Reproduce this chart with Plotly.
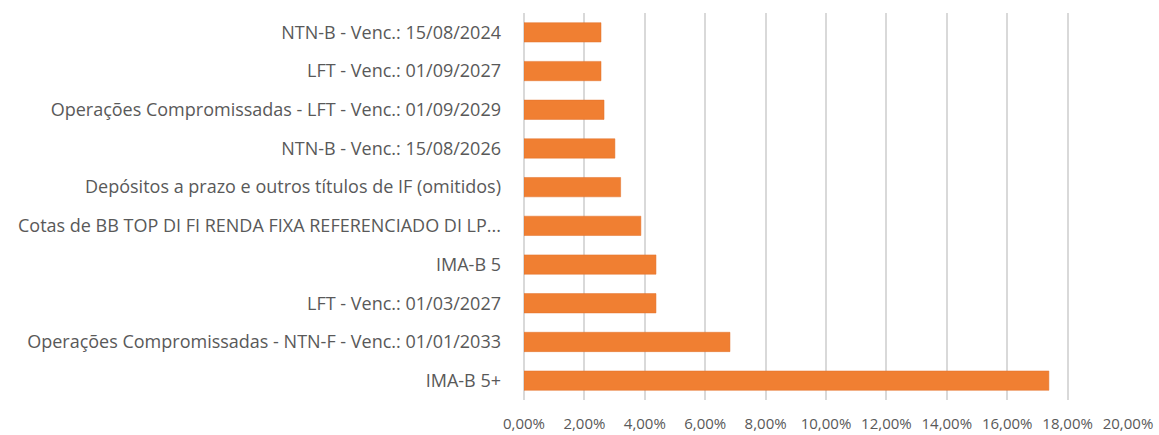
import plotly.graph_objects as go

categories = [
    "NTN-B - Venc.: 15/08/2024",
    "LFT - Venc.: 01/09/2027",
    "Operações Compromissadas - LFT - Venc.: 01/09/2029",
    "NTN-B - Venc.: 15/08/2026",
    "Depósitos a prazo e outros títulos de IF (omitidos)",
    "Cotas de BB TOP DI FI RENDA FIXA REFERENCIADO DI LP...",
    "IMA-B 5",
    "LFT - Venc.: 01/03/2027",
    "Operações Compromissadas - NTN-F - Venc.: 01/01/2033",
    "IMA-B 5+",
]
values = [2.55, 2.55, 2.65, 3.01, 3.20, 3.87, 4.37, 4.37, 6.82, 17.38]
tick_vals = [0, 2, 4, 6, 8, 10, 12, 14, 16, 18, 20]
tick_text = ["0,00%", "2,00%", "4,00%", "6,00%", "8,00%", "10,00%", "12,00%",
             "14,00%", "16,00%", "18,00%", "20,00%"]

fig = go.Figure()
fig.add_trace(go.Bar(
    x=values, y=categories, orientation="h",
    marker=dict(color="#F07F32", line=dict(color="#E2702A", width=0.5)),
    hoverinfo="x+y",
))
fig.update_layout(
    width=1159, height=435,
    margin=dict(l=524, r=31, t=13, b=35),
    paper_bgcolor="white", plot_bgcolor="white",
    bargap=0.5, showlegend=False,
    font=dict(family="'Open Sans', sans-serif", color="#595959"),
)
fig.update_xaxes(
    range=[0, 20], tickvals=tick_vals, ticktext=tick_text,
    showgrid=True, gridcolor="#D9D9D9", gridwidth=1.5,
    zeroline=True, zerolinecolor="#D9D9D9", zerolinewidth=1.5,
    tickfont=dict(size=15, color="#595959"), showline=False,
    ticklabelstandoff=13, automargin=False,
)
fig.update_yaxes(
    autorange="reversed", showgrid=False,
    tickfont=dict(size=18, color="#595959"),
    ticklabelstandoff=22, showline=False, automargin=False,
)
fig.write_html(
    "out.html",
    config={"displayModeBar": False},
    post_script="document.body.style.margin='0';document.body.style.overflow='hidden';",
)
